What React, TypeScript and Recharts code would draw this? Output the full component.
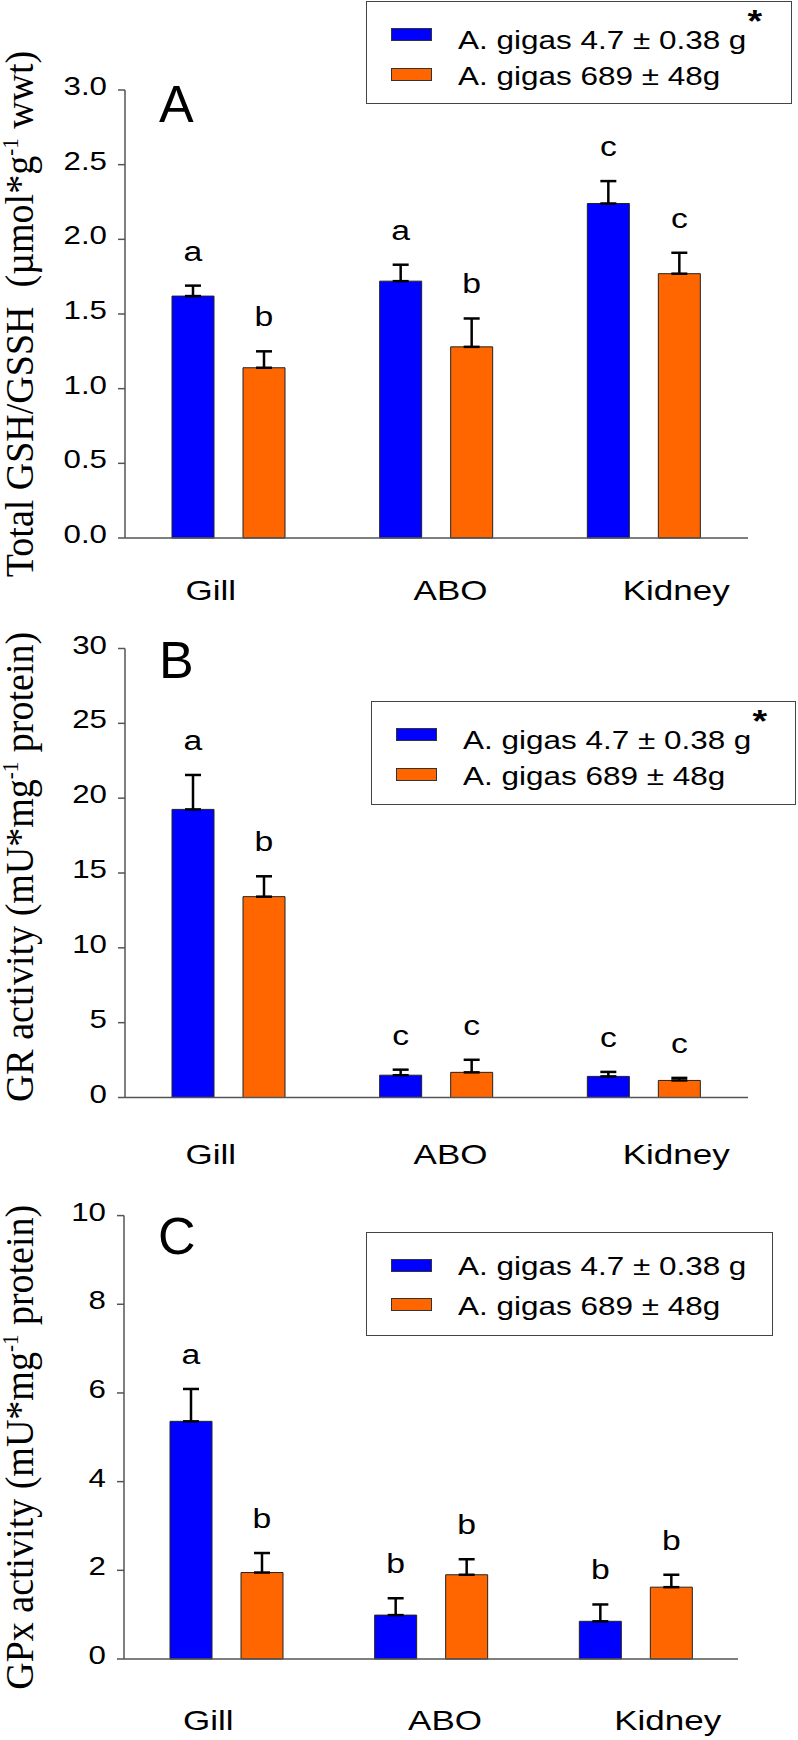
import React from 'react';
import { BarChart, Bar, XAxis, YAxis, ErrorBar, Legend, LabelList } from 'recharts';

const organs = ['Gill', 'ABO', 'Kidney'];
const seriesNames = ['A. gigas 4.7 \u00b1 0.38 g', 'A. gigas 689 \u00b1 48g'];
const seriesColors = ['#0000ff', '#ff6600'];

// A: total GSH/GSSH
const gshSmall = [1.62, 1.72, 2.24];
const gshSmallErr = [0.07, 0.11, 0.15];
const gshLarge = [1.14, 1.28, 1.77];
const gshLargeErr = [0.11, 0.19, 0.14];
const gshSmallLetters = ['a', 'a', 'c'];
const gshLargeLetters = ['b', 'b', 'c'];
const gshTicks = [0, 0.5, 1, 1.5, 2, 2.5, 3];

// B: GR activity
const grSmall = [19.25, 1.49, 1.41];
const grSmallErr = [2.3, 0.37, 0.3];
const grLarge = [13.42, 1.68, 1.14];
const grLargeErr = [1.36, 0.84, 0.17];
const grSmallLetters = ['a', 'c', 'c'];
const grLargeLetters = ['b', 'c', 'c'];
const grTicks = [0, 5, 10, 15, 20, 25, 30];

// C: GPx activity
const gpxSmall = [5.36, 0.99, 0.85];
const gpxSmallErr = [0.73, 0.38, 0.38];
const gpxLarge = [1.95, 1.9, 1.62];
const gpxLargeErr = [0.44, 0.35, 0.28];
const gpxSmallLetters = ['a', 'b', 'b'];
const gpxLargeLetters = ['b', 'b', 'b'];
const gpxTicks = [0, 2, 4, 6, 8, 10];

// organ names sit a little off the bar groups in the original
const organLabelDx = [-18, 14, 32];

const SANS = '"Liberation Sans", Arial, sans-serif';
const SERIF = '"Liberation Serif", "Times New Roman", serif';
const STRETCH = 1.25;
const AXIS = '#555';

const panels = [
  {
    tag: 'A', top: 0, height: 620, plotTop: 90, plotBottom: 538, yWidth: 125, right: 50,
    ticks: gshTicks, fmt: (v: number) => v.toFixed(1),
    small: gshSmall, smallErr: gshSmallErr, large: gshLarge, largeErr: gshLargeErr,
    smallLetters: gshSmallLetters, largeLetters: gshLargeLetters,
    title: ['Total GSH/GSSH\u00a0\u00a0(\u00b5mol*g', ' wwt)'], titleShift: 0,
    legend: { top: 1, left: 366, width: 426, height: 103, star: true },
    tagDy: 32, labelDy: 62,
  },
  {
    tag: 'B', top: 600, height: 580, plotTop: 648.5, plotBottom: 1097.5, yWidth: 125, right: 50,
    ticks: grTicks, fmt: (v: number) => String(v),
    small: grSmall, smallErr: grSmallErr, large: grLarge, largeErr: grLargeErr,
    smallLetters: grSmallLetters, largeLetters: grLargeLetters,
    title: ['GR activity (mU*mg', ' protein)'], titleShift: -6,
    legend: { top: 101, left: 371, width: 425, height: 104, star: true },
    tagDy: 29.5, labelDy: 66,
  },
  {
    tag: 'C', top: 1160, height: 580, plotTop: 1215.6, plotBottom: 1659, yWidth: 124, right: 60,
    ticks: gpxTicks, fmt: (v: number) => String(v),
    small: gpxSmall, smallErr: gpxSmallErr, large: gpxLarge, largeErr: gpxLargeErr,
    smallLetters: gpxSmallLetters, largeLetters: gpxLargeLetters,
    title: ['GPx activity (mU*mg', ' protein)'], titleShift: 10,
    legend: { top: 71.5, left: 366, width: 407, height: 104, star: false },
    tagDy: 38, labelDy: 71,
  },
];

function LegendBox({ width, height, star }: { width: number; height: number; star: boolean }) {
  return (
    <div
      style={{
        position: 'relative', width, height, boxSizing: 'border-box',
        border: '1.5px solid #444', background: '#fff', fontFamily: SANS, color: '#000',
      }}
    >
      {seriesNames.map((name, i) => (
        <React.Fragment key={name}>
          <div
            style={{
              position: 'absolute', left: 23.5, top: i === 0 ? 26 : 65.5, width: 41, height: 13,
              background: seriesColors[i], border: '1px solid #333', boxSizing: 'border-box',
            }}
          />
          <div
            style={{
              position: 'absolute', left: 90.5, top: i === 0 ? 20.8 : 60.8, fontSize: 26, lineHeight: 1,
              whiteSpace: 'nowrap', transform: 'scaleX(1.21)', transformOrigin: 'left top',
            }}
          >
            {name}
            {star && i === 0 && (
              <span style={{ position: 'relative', top: -17, fontSize: 31, fontWeight: 'bold', marginLeft: 1 }}>*</span>
            )}
          </div>
        </React.Fragment>
      ))}
    </div>
  );
}

function Panel({ p }: { p: (typeof panels)[number] }) {
  const data = organs.map((organ, i) => ({
    organ,
    small: p.small[i],
    smallErr: [0, p.smallErr[i]],
    large: p.large[i],
    largeErr: [0, p.largeErr[i]],
  }));
  const domain = [p.ticks[0], p.ticks[p.ticks.length - 1]];

  const letterLabel = (letters: string[], errs: number[]) => (props: any) => {
    const vb = props.viewBox || props;
    const { x, y, width, height } = vb;
    const i = props.index;
    const v = props.value;
    if (i == null || !v || !height) return null;
    const errTop = y - (errs[i] * height) / v;
    return (
      <text
        transform={`translate(${x + width / 2},${errTop - 25}) scale(${STRETCH},1)`}
        textAnchor="middle"
        fontFamily={SANS}
        fontSize={27}
        fill="#000"
      >
        {letters[i]}
      </text>
    );
  };

  const titleContent = (props: any) => {
    const vb = props.viewBox;
    if (!vb) return null;
    const cy = vb.y + vb.height / 2 + p.titleShift;
    return (
      <g>
        <text
          transform={`translate(33,${cy}) scale(1.05,1) rotate(-90)`}
          textAnchor="middle"
          fontFamily={SERIF}
          fontSize={38}
          fill="#000"
        >
          <tspan>{p.title[0]}</tspan>
          <tspan dy={-14} fontSize={21}>-1</tspan>
          <tspan dy={14}>{p.title[1]}</tspan>
        </text>
        <text
          x={vb.x + vb.width + 34}
          y={vb.y + p.tagDy}
          fontFamily={SANS}
          fontSize={52}
          fill="#000"
        >
          {p.tag}
        </text>
      </g>
    );
  };

  const yTick = (props: any) => (
    <text
      transform={`translate(${props.x},${props.y + 5}) scale(${STRETCH},1)`}
      textAnchor="end"
      fontFamily={SANS}
      fontSize={25}
      fill="#000"
    >
      {p.fmt(props.payload.value)}
    </text>
  );

  const xTick = (props: any) => {
    const dx = organLabelDx[props.index] ?? 0;
    return (
      <text
        transform={`translate(${props.x + dx},${props.y + p.labelDy}) scale(${STRETCH},1)`}
        textAnchor="middle"
        fontFamily={SANS}
        fontSize={28}
        fill="#000"
      >
        {props.payload.value}
      </text>
    );
  };

  const xAxisH = 70;
  const margin = {
    top: p.plotTop - p.top,
    right: p.right,
    bottom: p.top + p.height - p.plotBottom - xAxisH,
    left: 0,
  };

  return (
    <div style={{ position: 'absolute', left: 0, top: p.top }}>
      <BarChart width={798} height={p.height} data={data} margin={margin} barGap={29}>
        <XAxis
          dataKey="organ"
          height={xAxisH}
          tickLine={false}
          tickSize={0}
          tickMargin={0}
          axisLine={{ stroke: AXIS, strokeWidth: 1.5 }}
          tick={xTick}
          interval={0}
        />
        <YAxis
          width={p.yWidth}
          domain={domain}
          ticks={p.ticks}
          interval={0}
          tickSize={7}
          tickMargin={11}
          axisLine={{ stroke: AXIS, strokeWidth: 1.5 }}
          tickLine={{ stroke: AXIS, strokeWidth: 1.5 }}
          tick={yTick}
          label={{ content: titleContent }}
        />
        <Legend
          layout="horizontal"
          verticalAlign="middle"
          align="center"
          wrapperStyle={{ top: p.legend.top, left: p.legend.left, width: p.legend.width }}
          content={() => <LegendBox width={p.legend.width} height={p.legend.height} star={p.legend.star} />}
        />
        <Bar dataKey="small" name={seriesNames[0]} fill={seriesColors[0]} stroke="#222" strokeWidth={1} barSize={42} isAnimationActive={false}>
          <ErrorBar dataKey="smallErr" direction="y" width={8} stroke="#000" strokeWidth={2.5} isAnimationActive={false} />
          <LabelList dataKey="small" content={letterLabel(p.smallLetters, p.smallErr)} />
        </Bar>
        <Bar dataKey="large" name={seriesNames[1]} fill={seriesColors[1]} stroke="#222" strokeWidth={1} barSize={42} isAnimationActive={false}>
          <ErrorBar dataKey="largeErr" direction="y" width={8} stroke="#000" strokeWidth={2.5} isAnimationActive={false} />
          <LabelList dataKey="large" content={letterLabel(p.largeLetters, p.largeErr)} />
        </Bar>
      </BarChart>
    </div>
  );
}

export default function App() {
  return (
    <div style={{ position: 'absolute', left: 0, top: 0, width: 798, height: 1740, background: '#fff' }}>
      {panels.map((p) => (
        <Panel key={p.tag} p={p} />
      ))}
    </div>
  );
}
